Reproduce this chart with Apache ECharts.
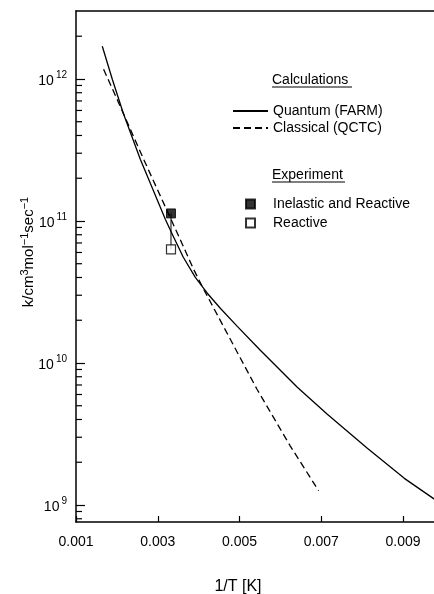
<!DOCTYPE html>
<html>
<head>
<meta charset="utf-8">
<script src="https://cdn.jsdelivr.net/npm/echarts@6/dist/echarts.min.js"></script>
<style>
html,body{margin:0;padding:0;background:#fff;}
#chart{width:434px;height:594px;}
</style>
</head>
<body>
<div id="chart"></div>
<script>
// ---- data ----
const quantumX = [0.001643, 0.001888, 0.002157, 0.002573, 0.002818, 0.003185, 0.003332, 0.003625, 0.003919, 0.004212, 0.004530, 0.004946, 0.005509, 0.006414, 0.007148, 0.008127, 0.009032, 0.009766];
const quantumK = [1.70e12, 9.95e11, 5.73e11, 2.72e11, 1.84e11, 1.03e11, 8.33e10, 5.55e10, 4.01e10, 3.10e10, 2.43e10, 1.81e10, 1.23e10, 6.74e9, 4.35e9, 2.51e9, 1.54e9, 1.10e9];
const classicalX = [0.001675, 0.002059, 0.002654, 0.003510, 0.003877, 0.004122, 0.004775, 0.005428, 0.006243, 0.006935];
const classicalK = [1.17e12, 6.64e11, 2.72e11, 7.84e10, 4.57e10, 3.31e10, 1.47e10, 6.53e9, 2.60e9, 1.26e9];
const expX = [0.003324];
const inelasticK = [1.13e11];
const reactiveK = [6.3e10];
const xTicks = [0.001, 0.003, 0.005, 0.007, 0.009];
const yMajorTicks = [1e9, 1e10, 1e11, 1e12];
const yMinorTicks = [8e8, 9e8,
  2e9, 3e9, 4e9, 5e9, 6e9, 7e9, 8e9, 9e9,
  2e10, 3e10, 4e10, 5e10, 6e10, 7e10, 8e10, 9e10,
  2e11, 3e11, 4e11, 5e11, 6e11, 7e11, 8e11, 9e11,
  2e12];
const seriesNames = ['Quantum (FARM)', 'Classical (QCTC)', 'Inelastic and Reactive', 'Reactive'];

const X_MIN = 0.001, X_MAX = 0.009758, Y_MIN = 7.59e8, Y_MAX = 3.01e12;
const FONT = 'Liberation Sans';

const chart = echarts.init(document.getElementById('chart'), null, {renderer: 'canvas'});

const zip = (xs, ys) => xs.map((x, i) => [x, ys[i]]);

const option = {
  backgroundColor: '#fff',
  animation: false,
  textStyle: {fontFamily: FONT, color: '#000'},
  grid: {left: 76, right: 0, top: 11, bottom: 72, show: false, containLabel: false, outerBoundsMode: 'none'},
  xAxis: [{
    type: 'value', min: X_MIN, max: X_MAX, position: 'bottom',
    axisLine: {show: true, onZero: false, lineStyle: {color: '#000', width: 1.5}},
    axisTick: {show: true, inside: true, length: 6, customValues: xTicks, lineStyle: {color: '#000', width: 1.2}},
    axisLabel: {customValues: xTicks, formatter: v => v.toFixed(3), fontSize: 14, fontFamily: FONT, color: '#000', margin: 13},
    splitLine: {show: false},
    name: '1/T [K]', nameLocation: 'middle', nameGap: 57, nameMoveOverlap: false,
    nameTextStyle: {fontSize: 16, fontFamily: FONT, color: '#000', padding: [0, 34, 0, 0]}
  }, {
    type: 'value', min: X_MIN, max: X_MAX, position: 'top',
    axisLine: {show: true, onZero: false, lineStyle: {color: '#000', width: 1.5}},
    axisTick: {show: false}, axisLabel: {show: false}, splitLine: {show: false}
  }],
  yAxis: {
    type: 'log', logBase: 10, min: Y_MIN, max: Y_MAX,
    axisLine: {show: true, onZero: false, lineStyle: {color: '#000', width: 1.5}},
    axisTick: {show: true, inside: true, length: 9, customValues: yMajorTicks, lineStyle: {color: '#000', width: 1.2}},
    axisLabel: {
      customValues: yMajorTicks, margin: 9,
      formatter: v => '{b|10}{s|' + Math.round(Math.log10(v)) + '}',
      rich: {
        b: {fontSize: 14, fontFamily: FONT, color: '#000', lineHeight: 18, verticalAlign: 'bottom'},
        s: {fontSize: 10, fontFamily: FONT, color: '#000', lineHeight: 11, verticalAlign: 'top', padding: [0, 0, 0, 2]}
      }
    },
    splitLine: {show: false},
    minorTick: {show: false},
    name: '{a|k/cm}{s|3}{a|mol}{s|−1}{a|sec}{s|−1}',
    nameLocation: 'middle', nameGap: 40, nameRotate: 90, nameMoveOverlap: false,
    nameTextStyle: {
      padding: [0, 0, 0, 29],
      rich: {
        a: {fontSize: 15, fontFamily: FONT, color: '#000', lineHeight: 17, verticalAlign: 'bottom'},
        s: {fontSize: 11, fontFamily: FONT, color: '#000', lineHeight: 11, verticalAlign: 'top'}
      }
    }
  },
  legend: [
    {
      data: [seriesNames[0], seriesNames[1]],
      orient: 'vertical', left: 232, top: 104, padding: 0,
      itemWidth: 35, itemHeight: 14, itemGap: 3,
      itemStyle: {opacity: 0},
      textStyle: {fontSize: 14, fontFamily: FONT, color: '#000'},
      selectedMode: false
    },
    {
      data: [seriesNames[2], seriesNames[3]],
      orient: 'vertical', left: 245, top: 197, padding: 0,
      itemWidth: 9, itemHeight: 9, itemGap: 5,
      textStyle: {fontSize: 14, fontFamily: FONT, color: '#000', padding: [0, 0, 0, 13]},
      selectedMode: false
    }
  ],
  graphic: [
    {type: 'text', left: 272, top: 73, style: {text: 'Calculations', font: '14px "Liberation Sans"', fill: '#000'}},
    {type: 'line', shape: {x1: 272, y1: 87, x2: 352, y2: 87}, style: {stroke: '#000', lineWidth: 1}},
    {type: 'text', left: 272, top: 168, style: {text: 'Experiment', font: '14px "Liberation Sans"', fill: '#000'}},
    {type: 'line', shape: {x1: 272, y1: 182, x2: 345, y2: 182}, style: {stroke: '#000', lineWidth: 1}}
  ],
  series: [
    {
      name: seriesNames[0], type: 'line', data: zip(quantumX, quantumK),
      smooth: false, symbol: 'none', lineStyle: {color: '#000', width: 1.3, type: 'solid'},
      itemStyle: {color: '#000'}, z: 3
    },
    {
      name: seriesNames[1], type: 'line', data: zip(classicalX, classicalK),
      smooth: false, symbol: 'none', lineStyle: {color: '#000', width: 1.3, type: [7, 4]},
      itemStyle: {color: '#000'}, z: 3
    },
    {
      name: 'errorbar', type: 'line',
      data: [[expX[0], inelasticK[0]], [expX[0], reactiveK[0]]],
      symbol: 'none', lineStyle: {color: '#000', width: 1}, z: 2, silent: true
    },
    {
      name: seriesNames[2], type: 'scatter', data: zip(expX, inelasticK),
      symbol: 'rect', symbolSize: 9, itemStyle: {color: '#000', borderColor: '#000', borderWidth: 1}, z: 5
    },
    {
      name: seriesNames[3], type: 'scatter', data: zip(expX, reactiveK),
      symbol: 'rect', symbolSize: 9, itemStyle: {color: '#fff', borderColor: '#000', borderWidth: 1.2}, z: 5
    },
    {
      name: 'minorTicks', type: 'custom', silent: true, z: 4,
      data: yMinorTicks.map(v => [X_MIN, v]),
      encode: {x: 0, y: 1},
      renderItem: (params, api) => {
        const p = api.coord([api.value(0), api.value(1)]);
        return {type: 'line', shape: {x1: p[0], y1: p[1], x2: p[0] + 6, y2: p[1]}, style: {stroke: '#000', lineWidth: 1.2}};
      }
    }
  ]
};
chart.setOption(option);
</script>
</body>
</html>
